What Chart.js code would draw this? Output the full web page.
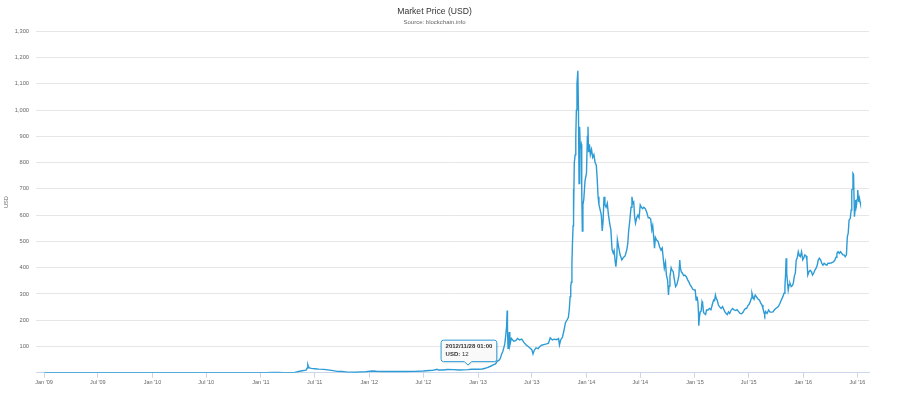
<!DOCTYPE html>
<html>
<head>
<meta charset="utf-8">
<script src="https://cdn.jsdelivr.net/npm/chart.js@4.4.1/dist/chart.umd.min.js"></script>
<style>
html,body{margin:0;padding:0;background:#ffffff;}
#wrap{position:relative;width:900px;height:393px;}
</style>
</head>
<body>
<div id="wrap"><canvas id="c"></canvas></div>
<script>
const chartTitle = "Market Price (USD)";
const chartSubtitle = "Source: blockchain.info";
const yAxisTitle = "USD";
const seriesName = "USD";

const dates = [
"2009-01-03","2009-06-01","2010-01-01","2010-07-17","2010-08-15","2010-09-15","2010-10-15","2010-11-06","2010-11-20","2010-12-15",
"2011-01-15","2011-02-10","2011-03-01","2011-03-20","2011-04-10","2011-04-25","2011-05-01","2011-05-15","2011-05-25","2011-06-02",
"2011-06-06","2011-06-08","2011-06-10","2011-06-13","2011-06-20","2011-07-01","2011-07-15","2011-08-01","2011-08-15","2011-09-01",
"2011-09-15","2011-10-01","2011-10-20","2011-11-18","2011-12-01","2011-12-20","2012-01-10","2012-01-25","2012-02-15","2012-03-01",
"2012-04-01","2012-05-01","2012-06-01","2012-07-01","2012-07-20","2012-08-01","2012-08-16","2012-08-20","2012-09-05","2012-09-20",
"2012-10-10","2012-10-28","2012-11-12","2012-11-28","2012-12-10","2012-12-25",
"2013-01-01","2013-01-15","2013-01-25","2013-02-01","2013-02-10","2013-02-21","2013-03-01","2013-03-07","2013-03-12","2013-03-17",
"2013-03-21","2013-03-25","2013-03-28","2013-04-01","2013-04-04","2013-04-07","2013-04-09","2013-04-10","2013-04-12","2013-04-14",
"2013-04-16","2013-04-18","2013-04-23","2013-05-01","2013-05-08","2013-05-14","2013-05-21","2013-05-28","2013-06-05","2013-06-12",
"2013-06-20","2013-07-01","2013-07-05","2013-07-09","2013-07-15","2013-07-22","2013-07-28","2013-08-03","2013-08-10","2013-08-20",
"2013-08-26","2013-09-01","2013-09-08","2013-09-15","2013-09-22","2013-09-29","2013-10-02","2013-10-06","2013-10-12","2013-10-17",
"2013-10-22","2013-10-27","2013-11-01","2013-11-04","2013-11-07","2013-11-09","2013-11-11","2013-11-13","2013-11-15","2013-11-17",
"2013-11-18","2013-11-19","2013-11-21","2013-11-24","2013-11-26","2013-11-28","2013-11-30","2013-12-03","2013-12-05","2013-12-07",
"2013-12-09","2013-12-11","2013-12-14","2013-12-16","2013-12-18","2013-12-20","2013-12-23","2013-12-27",
"2014-01-01","2014-01-04","2014-01-06","2014-01-08","2014-01-11","2014-01-14","2014-01-18","2014-01-22","2014-01-26","2014-01-30",
"2014-02-03","2014-02-06","2014-02-09","2014-02-12","2014-02-16","2014-02-20","2014-02-23","2014-02-26","2014-03-01","2014-03-04",
"2014-03-08","2014-03-12","2014-03-16","2014-03-20","2014-03-24","2014-03-28","2014-04-01","2014-04-04","2014-04-08","2014-04-10",
"2014-04-13","2014-04-15","2014-04-19","2014-04-24","2014-04-30","2014-05-06","2014-05-11","2014-05-17","2014-05-20","2014-05-23",
"2014-05-27","2014-05-31","2014-06-03","2014-06-06","2014-06-09","2014-06-12","2014-06-15","2014-06-19","2014-06-23","2014-06-27",
"2014-07-01","2014-07-05","2014-07-09","2014-07-13","2014-07-18","2014-07-23","2014-07-28","2014-08-01","2014-08-05","2014-08-09",
"2014-08-12","2014-08-15","2014-08-18","2014-08-21","2014-08-25","2014-08-30","2014-09-04","2014-09-09","2014-09-13","2014-09-16",
"2014-09-20","2014-09-24","2014-09-27","2014-10-01","2014-10-04","2014-10-06","2014-10-09","2014-10-13","2014-10-16","2014-10-20",
"2014-10-23","2014-10-28","2014-11-01","2014-11-05","2014-11-08","2014-11-11","2014-11-13","2014-11-16","2014-11-20","2014-11-24",
"2014-11-28","2014-12-03","2014-12-08","2014-12-12","2014-12-16","2014-12-20","2014-12-25","2014-12-30",
"2015-01-02","2015-01-05","2015-01-08","2015-01-11","2015-01-13","2015-01-14","2015-01-16","2015-01-19","2015-01-22","2015-01-25",
"2015-01-27","2015-01-30","2015-02-02","2015-02-06","2015-02-09","2015-02-14","2015-02-19","2015-02-24","2015-03-01","2015-03-05",
"2015-03-08","2015-03-11","2015-03-14","2015-03-17","2015-03-21","2015-03-26","2015-03-30","2015-04-04","2015-04-08","2015-04-12",
"2015-04-16","2015-04-20","2015-04-24","2015-04-28","2015-05-03","2015-05-08","2015-05-13","2015-05-18","2015-05-23","2015-05-28",
"2015-06-02","2015-06-07","2015-06-12","2015-06-16","2015-06-20","2015-06-24","2015-06-28","2015-07-02","2015-07-06","2015-07-10",
"2015-07-12","2015-07-15","2015-07-19","2015-07-23","2015-07-27","2015-08-01","2015-08-06","2015-08-11","2015-08-15","2015-08-18",
"2015-08-22","2015-08-24","2015-08-27","2015-09-01","2015-09-06","2015-09-11","2015-09-16","2015-09-21","2015-09-25","2015-09-30",
"2015-10-04","2015-10-09","2015-10-14","2015-10-19","2015-10-24","2015-10-28","2015-10-31","2015-11-02","2015-11-04","2015-11-06",
"2015-11-09","2015-11-11","2015-11-14","2015-11-17","2015-11-21","2015-11-25","2015-11-28","2015-12-02","2015-12-05","2015-12-08",
"2015-12-12","2015-12-15","2015-12-19","2015-12-22","2015-12-26","2015-12-30",
"2016-01-02","2016-01-06","2016-01-10","2016-01-13","2016-01-16","2016-01-20","2016-01-24","2016-01-28","2016-02-01","2016-02-05",
"2016-02-09","2016-02-13","2016-02-17","2016-02-20","2016-02-24","2016-02-28","2016-03-03","2016-03-07","2016-03-11","2016-03-16",
"2016-03-20","2016-03-24","2016-03-29","2016-04-03","2016-04-08","2016-04-12","2016-04-16","2016-04-20","2016-04-23","2016-04-27",
"2016-05-01","2016-05-05","2016-05-09","2016-05-13","2016-05-17","2016-05-21","2016-05-25","2016-05-28","2016-05-31","2016-06-03",
"2016-06-07","2016-06-10","2016-06-12","2016-06-15","2016-06-16","2016-06-18","2016-06-21","2016-06-23","2016-06-25","2016-06-28",
"2016-06-30","2016-07-02","2016-07-04","2016-07-06","2016-07-08","2016-07-10","2016-07-11"
];

const prices = [
0,0,0,0.05,0.07,0.06,0.1,0.39,0.28,0.25,
0.4,1.05,0.9,0.8,0.8,1.8,3.0,7.0,8.5,10,
18,31,24,19,17,15.5,13.8,13,11,8.2,
5.5,5,2.6,2.1,3.0,3.8,7,5.7,4.9,5,
4.9,5.0,5.3,6.7,8.8,9.3,13.5,10.5,10.5,12.3,
12,10.7,11,12,13.5,13.4,
13.4,14.5,17.5,20,24,30,34,45,47,55,
70,80,92,110,140,175,237,170,93,110,
155,105,131,120,122,131,125,128,115,106,
99,88,72,85,95,92,100,105,107,110,
113,133,125,128,126,130,106,125,135,160,
190,200,210,240,290,330,345,420,500,560,
700,600,800,830,900,1000,1100,1150,1000,720,
937,860,870,700,540,640,660,730,
760,900,937,840,870,830,850,820,830,800,
790,740,670,640,620,600,540,580,670,640,
630,645,600,570,545,470,456,465,420,404,
440,506,480,450,430,440,445,470,493,540,
582,630,670,645,650,595,570,590,600,590,
639,630,625,630,625,610,590,590,585,544,
560,520,474,515,505,500,480,467,475,440,
398,420,372,353,296,330,366,400,391,385,
360,328,335,353,370,429,400,385,379,370,
372,366,353,345,335,328,318,315,
315,277,290,270,230,179,210,233,235,271,
264,230,226,222,239,239,245,240,262,277,
275,296,282,277,258,250,245,252,242,232,
226,222,232,226,239,245,239,237,240,233,
226,225,230,239,245,245,255,260,270,284,
303,290,280,296,290,281,277,264,258,245,
228,220,233,226,239,231,231,232,239,245,
248,252,264,277,290,303,330,370,436,380,
340,315,335,341,328,332,340,370,379,429,
440,461,445,442,461,430,
436,449,445,429,372,385,390,385,372,380,
391,398,410,429,436,430,417,410,417,412,
410,417,417,418,420,423,429,440,455,461,
455,461,455,449,449,442,449,518,532,582,
588,620,696,700,759,755,594,620,658,640,
660,696,670,651,664,650,645
];

const xTickDates = ["2009-01-01","2009-07-01","2010-01-01","2010-07-01","2011-01-01","2011-07-01","2012-01-01","2012-07-01",
"2013-01-01","2013-07-01","2014-01-01","2014-07-01","2015-01-01","2015-07-01","2016-01-01","2016-07-01"];
const xTickLabels = ["Jan '09","Jul '09","Jan '10","Jul '10","Jan '11","Jul '11","Jan '12","Jul '12",
"Jan '13","Jul '13","Jan '14","Jul '14","Jan '15","Jul '15","Jan '16","Jul '16"];
const xRange = ["2008-12-05","2016-08-09"];
const yMin = 0, yMax = 1300, yStep = 100;

const tooltipDate = "2012-11-28";
const tooltipHeader = "2012/11/28 01:00";

function toMs(s){ return Date.UTC(+s.slice(0,4), +s.slice(5,7)-1, +s.slice(8,10)); }

const FONT = "'Liberation Sans', Arial, sans-serif";
const LINE = "#2d9bd5";

const points = dates.map((d,i)=>({x: toMs(d), y: prices[i]}));
const tickValues = xTickDates.map(toMs);
const tipIndex = dates.indexOf(tooltipDate);

const fixedTooltip = {
  id: 'fixedTooltip',
  afterDraw(chart){
    const el = chart.getDatasetMeta(0).data[tipIndex];
    if(!el) return;
    const ctx = chart.ctx;
    const px = el.x, py = el.y;
    const fs = 6;
    ctx.save();
    ctx.font = "bold " + fs + "px " + FONT;
    const wTitle = ctx.measureText(tooltipHeader).width;
    const lbl = seriesName + ":";
    const wLbl = ctx.measureText(lbl).width;
    ctx.font = fs + "px " + FONT;
    const valStr = " " + prices[tipIndex];
    const wVal = ctx.measureText(valStr).width;
    const pad = 4.5;
    const w = Math.max(wTitle, wLbl + wVal) + pad*2;
    const h = 21.5;
    const tipY = py - 4.5;
    const bottom = tipY - 3.5;
    const top = bottom - h;
    const left = px - w/2 + 1;
    const right = left + w;
    const r = 2.5, cw = 3.5;
    ctx.beginPath();
    ctx.moveTo(left + r, top);
    ctx.lineTo(right - r, top);
    ctx.quadraticCurveTo(right, top, right, top + r);
    ctx.lineTo(right, bottom - r);
    ctx.quadraticCurveTo(right, bottom, right - r, bottom);
    ctx.lineTo(px + cw, bottom);
    ctx.lineTo(px, tipY);
    ctx.lineTo(px - cw, bottom);
    ctx.lineTo(left + r, bottom);
    ctx.quadraticCurveTo(left, bottom, left, bottom - r);
    ctx.lineTo(left, top + r);
    ctx.quadraticCurveTo(left, top, left + r, top);
    ctx.closePath();
    ctx.shadowColor = 'rgba(0,0,0,0.12)';
    ctx.shadowBlur = 2;
    ctx.shadowOffsetX = 1;
    ctx.shadowOffsetY = 1;
    ctx.fillStyle = 'rgba(250,250,250,0.95)';
    ctx.fill();
    ctx.shadowColor = 'transparent';
    ctx.lineWidth = 1;
    ctx.strokeStyle = LINE;
    ctx.stroke();
    ctx.textBaseline = 'middle';
    ctx.textAlign = 'left';
    ctx.fillStyle = '#333333';
    ctx.font = "bold " + fs + "px " + FONT;
    ctx.fillText(tooltipHeader, left + pad, top + 6.3);
    ctx.fillText(lbl, left + pad, top + 14.5);
    ctx.font = fs + "px " + FONT;
    ctx.fillText(valStr, left + pad + wLbl, top + 14.5);
    ctx.restore();
  }
};

new Chart(document.getElementById('c'), {
  type: 'line',
  data: {
    datasets: [{
      label: seriesName,
      data: points,
      borderColor: LINE,
      borderWidth: 1.4,
      pointRadius: 0,
      pointHoverRadius: 0,
      fill: false,
      tension: 0
    }]
  },
  options: {
    responsive: true,
    maintainAspectRatio: false,
    animation: false,
    events: [],
    layout: { padding: { left: 0, right: 31, top: 0, bottom: 0 } },
    plugins: {
      legend: { display: false },
      tooltip: { enabled: false },
      title: {
        display: true, text: chartTitle, color: '#333333',
        font: { family: FONT, size: 8.6, weight: 'normal' },
        padding: { top: 6.5, bottom: 0 }
      },
      subtitle: {
        display: true, text: chartSubtitle, color: '#666666',
        font: { family: FONT, size: 6, weight: 'normal' },
        padding: { top: 2.3, bottom: 5.0 }
      }
    },
    scales: {
      x: {
        type: 'linear',
        min: toMs(xRange[0]),
        max: toMs(xRange[1]),
        afterBuildTicks: (s) => { s.ticks = tickValues.map(v => ({ value: v })); },
        afterFit: (s) => { s.height = 20.2; },
        ticks: {
          autoSkip: false, maxRotation: 0, minRotation: 0,
          color: '#666666', padding: 1,
          font: { family: FONT, size: 5.5 },
          callback: (v) => { const k = tickValues.indexOf(v); return k >= 0 ? xTickLabels[k] : ''; }
        },
        grid: { drawOnChartArea: false, drawTicks: true, tickLength: 5, color: '#ccd6eb', lineWidth: 1 },
        border: { display: true, color: '#ccd6eb', width: 1 }
      },
      y: {
        min: yMin, max: yMax,
        afterFit: (s) => { s.width = 36; },
        ticks: {
          stepSize: yStep, color: '#666666', padding: 7,
          font: { family: FONT, size: 5.7 },
          callback: (v) => v === 0 ? '' : v.toLocaleString('en-US')
        },
        grid: { color: '#e6e6e6', lineWidth: 1, drawTicks: false },
        border: { display: false },
        title: {
          display: true, text: yAxisTitle, color: '#666666',
          font: { family: FONT, size: 5.7 },
          padding: { top: 3, bottom: 0 }
        }
      }
    }
  },
  plugins: [fixedTooltip]
});
</script>
</body>
</html>
